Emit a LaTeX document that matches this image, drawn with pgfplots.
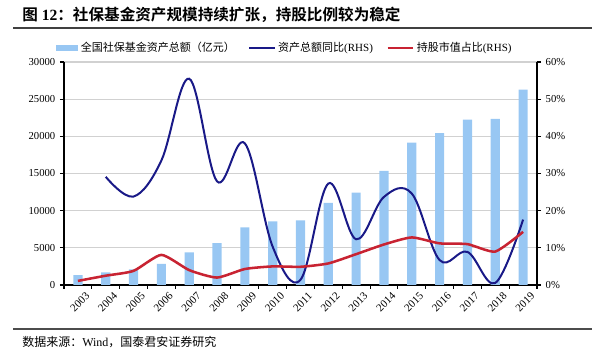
\documentclass[border=0pt]{standalone}
\usepackage{pgfplots}
\pgfplotsset{compat=1.18}
\usepackage{fontspec}
\setmainfont{Liberation Serif}
\newfontfamily\cjk{Noto Sans CJK SC}[BoldFont={Noto Sans CJK SC Bold}]
\definecolor{barblue}{RGB}{152,199,243}
\definecolor{navyline}{RGB}{25,25,135}
\definecolor{redline}{RGB}{200,35,50}
\begin{document}
\begin{tikzpicture}[x=0.75pt,y=0.75pt]
\useasboundingbox (0,0) rectangle (600,363);
% title
\node[anchor=west, inner sep=0pt, font=\fontsize{11.7}{13}\selectfont\bfseries] at (22,348)
  {{\cjk 图} 12{\cjk ：社保基金资产规模持续扩张，持股比例较为稳定}};
\draw[line width=1.1pt, black!75] (13,335) -- (592,335);
% footer
\draw[line width=0.9pt, black!70] (13,34) -- (592,34);
\node[anchor=west, inner sep=0pt, font=\fontsize{9}{11}\selectfont] at (22,21)
  {{\cjk 数据来源：}Wind{\cjk ，国泰君安证券研究}};

\begin{axis}[
  at={(48pt,58.5pt)}, anchor=south west,
  width=354.75pt, height=167.25pt, scale only axis,
  xmin=-0.5, xmax=16.5, ymin=0, ymax=30000,
  axis y line*=left, axis x line*=bottom,
  axis line style={black, line width=0.9pt},
  xtick={0,...,16},
  xticklabels={2003,2004,2005,2006,2007,2008,2009,2010,2011,2012,2013,2014,2015,2016,2017,2018,2019},
  x tick label style={rotate=45, anchor=north east, inner sep=0pt, font=\fontsize{8.2}{9}\selectfont, xshift=2.5pt, yshift=-5pt},
  major x tick style={draw=none},
  minor xtick={-0.5,0.5,...,16.5},
  minor tick length=3pt,
  major tick length=3pt,
  tick align=outside,
  tick style={black, line width=0.8pt},
  ytick={0,5000,...,30000},
  scaled y ticks=false,
  /pgf/number format/fixed, /pgf/number format/1000 sep={},
  /pgf/number format/assume math mode=true,
  y tick label style={font=\fontsize{8}{9}\selectfont},
  ymajorgrids, grid style={black!18, line width=0.8pt},
  legend style={at={(0.467,1.063)}, anchor=center, draw=none, fill=none,
    font=\fontsize{8.25}{10}\selectfont, inner sep=0pt,
    /tikz/every even column/.append style={column sep=8pt}},
  legend columns=3, legend cell align=left,
]
\addplot[ybar, bar width=0.33, fill=barblue, draw=none,
  legend image code/.code={\fill[barblue] (0pt,-2.4pt) rectangle (17pt,2.4pt);}]
  coordinates {(0,1325) (1,1711) (2,2118) (3,2828) (4,4397) (5,5624) (6,7766) (7,8567) (8,8688)
  (9,11060) (10,12416) (11,15356) (12,19138) (13,20423) (14,22231) (15,22354) (16,26285)};
\addlegendentry{\cjk 全国社保基金资产总额（亿元）}
\addlegendimage{legend image code/.code={\draw[navyline, line width=1.5pt] (0pt,0pt) -- (19pt,0pt);}}
\addlegendentry{{\cjk 资产总额同比}(RHS)}
\addlegendimage{legend image code/.code={\draw[redline, line width=1.9pt] (0pt,0pt) -- (19pt,0pt);}}
\addlegendentry{{\cjk 持股市值占比}(RHS)}
\end{axis}

\begin{axis}[
  at={(48pt,58.5pt)}, anchor=south west,
  width=354.75pt, height=167.25pt, scale only axis,
  xmin=-0.5, xmax=16.5, ymin=0, ymax=60,
  axis y line*=right, axis x line=none,
  axis line style={black, line width=0.9pt},
  ytick={0,10,...,60},
  /pgf/number format/assume math mode=true,
  yticklabel={\pgfmathprintnumber{\tick}\%},
  y tick label style={font=\fontsize{8}{9}\selectfont},
  major tick length=3pt, tick align=outside,
  tick style={black, line width=0.8pt},
]
\addplot[navyline, line width=1.5pt, smooth, tension=0.6] coordinates {
  (1,29.1) (2,23.8) (3,33.5) (4,55.5) (5,27.9) (6,38.1) (7,10.3) (8,1.4)
  (9,27.3) (10,12.3) (11,23.7) (12,24.6) (13,6.7) (14,8.9) (15,0.55) (16,17.6)};
\addplot[redline, line width=1.9pt, smooth, tension=0.35] coordinates {
  (0,1.1) (1,2.5) (2,3.8) (3,8.1) (4,4.0) (5,2.0) (6,4.3) (7,5.0) (8,4.9)
  (9,5.8) (10,8.3) (11,10.9) (12,12.8) (13,11.2) (14,11.0) (15,9.0) (16,14.3)};
\end{axis}
\end{tikzpicture}
\end{document}
